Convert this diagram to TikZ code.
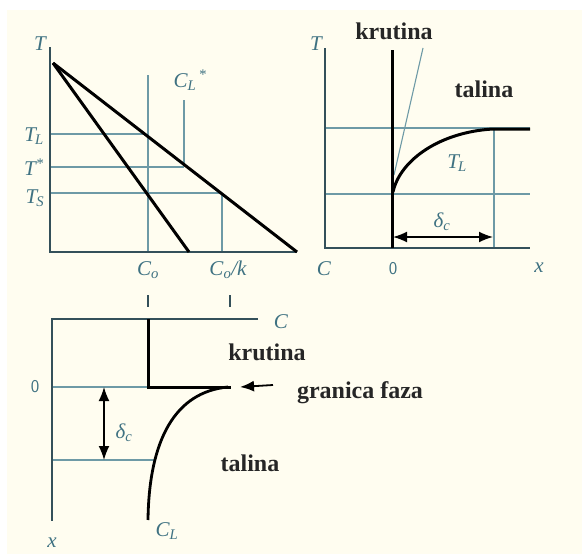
\documentclass[tikz,border=0pt]{standalone}
\usepackage{fontspec}
\setmainfont{Liberation Serif}
\usetikzlibrary{arrows.meta}
\definecolor{bg}{HTML}{FFFDF0}
\definecolor{axisc}{HTML}{34505A}
\definecolor{thinc}{HTML}{6E9AA6}
\definecolor{labc}{HTML}{3F7282}
\tikzset{
  axis/.style={draw=axisc, line width=1.7pt},
  thin/.style={draw=thinc, line width=1.1pt},
  thick/.style={draw=black, line width=3pt},
  lab/.style={text=labc, font=\fontsize{21}{22}\selectfont\itshape, inner sep=0pt},
  zero/.style={text=labc, font=\fontsize{18}{19}\selectfont\sffamily, inner sep=0pt},
  word/.style={text=black!85, font=\fontsize{24}{26}\selectfont\bfseries, inner sep=0pt},
  arr/.style={draw=black, line width=1.6pt, {Latex[length=14pt,width=11pt]}-{Latex[length=14pt,width=11pt]}},
}
\begin{document}
\begin{tikzpicture}[x=1pt,y=-1pt]
\useasboundingbox (0,0) rectangle (582,554);
\fill[white] (0,0) rectangle (582,554);
\fill[bg] (7,10) rectangle (582,554);
% ---------- top-left plot ----------
\coordinate (A) at (53,63);
\coordinate (B1) at (189,252);
\coordinate (B2) at (297,252);
\draw[thin] (148,75) -- (148,252);
\draw[thin] (184,100) -- (184,165);
\draw[thin] (222,193) -- (222,252);
\draw[thin] (50,134) -- (146,134);
\draw[thin] (50,167) -- (184,167);
\draw[thin] (50,193) -- (222,193);
\draw[axis] (50,47) -- (50,252) -- (297,252);
\draw[thick] (A) -- (B1);
\draw[thick] (A) -- (B2);
\node[lab] (t1) at (40,44) {T};
\node[lab] (tl) at (34,136) {T\textsubscript{\kern-1pt L}};
\node[lab] (ts) at (34,167) {T\textsuperscript{*}};
\node[lab] (tS) at (35,198) {T\textsubscript{\kern-1pt S}};
\node[lab] (cls) at (190,80) {C\textsubscript{L}\textsuperscript{\,*}};
\node[lab] (c0) at (148,270) {C\textsubscript{o}};
\node[lab] (c0k) at (228,270) {C\textsubscript{o}/k};
% ---------- top-right plot ----------
\draw[thin] (325,128) -- (530,128);
\draw[thin] (325,194) -- (530,194);
\draw[thin] (494,128) -- (494,248);
\draw[thin] (394,175) -- (423,48);
\draw[axis] (325,48) -- (325,248) -- (530,248);
\draw[thick] (392,50) -- (392,248);
\draw[black, line width=3pt] (393,192) .. controls (400,160) and (440,132) .. (493,129) -- (530,129);
\coordinate (d1) at (393,237);
\coordinate (d2) at (493,237);
\draw[arr] (d1) -- (d2);
\node[lab] (t2) at (316,44) {T};
\node[lab] (tl2) at (457,163) {T\textsubscript{\kern-1pt L}};
\node[lab] (dc1) at (442,222) {\itshape\char"03B4\textsubscript{c}};
\node[lab] (cc) at (324,269) {C};
\node[zero] (z1) at (393,269) {0};
\node[lab] (x1) at (539,268) {x};
\node[word] (kr1) at (394,31) {krutina};
\node[word] (ta1) at (484,89) {talina};
% ---------- bottom plot ----------
\draw[thin] (52,387) -- (148,387);
\draw[thin] (52,460) -- (155,460);
\draw[axisc, line width=1.5pt] (148,295) -- (148,307);
\draw[axisc, line width=1.5pt] (230,295) -- (230,307);
\draw[axis] (258,319) -- (52,319) -- (52,521);
\draw[black, line width=3pt] (148,319) -- (148,387) -- (231,387);
\draw[black, line width=2.8pt] (228,387) .. controls (175,392) and (149,440) .. (148,520);
\coordinate (e1) at (104,387);
\coordinate (e2) at (104,460);
\draw[arr] (e1) -- (e2);
\coordinate (g1) at (273,385);
\coordinate (g2) at (240,387);
\draw[black, line width=1.8pt, -{Latex[length=14pt,width=11pt]}] (g1) -- (g2);
\node[lab] (c3) at (281,322) {C};
\node[zero] (z2) at (35,387) {0};
\node[lab] (x3) at (52,543) {x};
\node[lab] (cl3) at (167,531) {C\textsubscript{L}};
\node[lab] (dc3) at (124,433) {\itshape\char"03B4\textsubscript{c}};
\node[word] (kr2) at (267,352) {krutina};
\node[word] (gf) at (360,393) {granica faza};
\node[word] (ta2) at (250,463) {talina};
\end{tikzpicture}
\end{document}
